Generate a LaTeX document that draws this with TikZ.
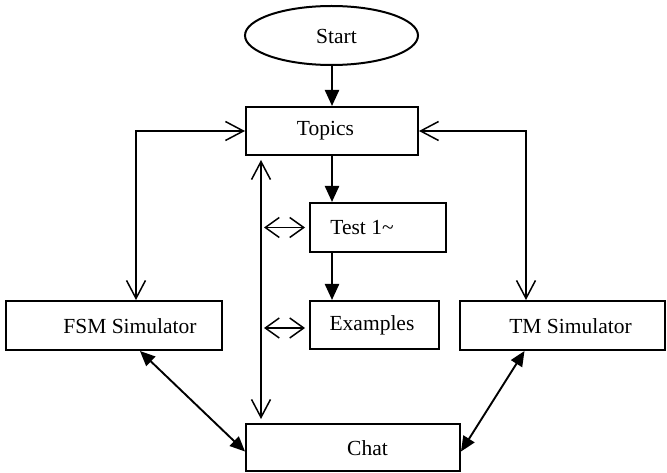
\documentclass[tikz,border=0pt]{standalone}
\usepackage{fontspec}
\setmainfont{Liberation Serif}
\usetikzlibrary{arrows.meta}
\begin{document}
\begin{tikzpicture}[x=1pt,y=-1pt,
  box/.style={draw, line width=2pt, rectangle, inner sep=0pt},
  lbl/.style={inner sep=0pt, font=\fontsize{21.5pt}{25pt}\selectfont},
  thick arrow/.style={line width=2.3pt, -{Triangle[length=16pt,width=14pt]}},
  dbl filled/.style={line width=1.9pt, {Triangle[length=15pt,width=13pt]}-{Triangle[length=15pt,width=13pt]}},
  open both/.style={line width=1.5pt, {Straight Barb[length=18pt,width=19pt,line width=1.5pt]}-{Straight Barb[length=18pt,width=19pt,line width=1.5pt]}},
  open small/.style={line width=1.5pt, {Straight Barb[length=14pt,width=20pt,line width=1.5pt]}-{Straight Barb[length=14pt,width=20pt,line width=1.5pt]}}
]
\useasboundingbox (0,0) rectangle (667,473);
\fill[white] (0,0) rectangle (667,473);

% shapes
\draw[line width=2pt] (331.5,35.5) ellipse [x radius=86.5pt, y radius=29.5pt];
\node[inner sep=0pt, minimum width=173pt, minimum height=59pt] (start) at (331.5,35.5) {};
\node[box, minimum width=172pt, minimum height=48pt] (topics) at (332,131) {};
\node[box, minimum width=136pt, minimum height=49pt] (test) at (378,227.5) {};
\node[box, minimum width=129pt, minimum height=48pt] (examples) at (374.5,325) {};
\node[box, minimum width=216pt, minimum height=49pt] (fsm) at (114,325.5) {};
\node[box, minimum width=205pt, minimum height=49pt] (tm) at (562.5,325.5) {};
\node[box, minimum width=214pt, minimum height=47pt] (chat) at (353,447.5) {};

% texts
\node[lbl] (tstart) at (336.5,36) {Start};
\node[lbl] (ttopics) at (325.5,131) {Topics};
\node[lbl] (ttest) at (362,228) {Test 1\textasciitilde};
\node[lbl] (texamples) at (372,325.5) {Examples};
\node[lbl] (tfsm) at (130,326) {FSM Simulator};
\node[lbl] (ttm) at (570.5,326) {TM Simulator};
\node[lbl] (tchat) at (367.5,448) {Chat};

% helper coordinates
\coordinate (lx) at (136,0);
\coordinate (rx) at (526,0);
\coordinate (vx) at (261,0);
\coordinate (mx) at (332,0);

% main flow
\draw[thick arrow] (start.south -| mx) -- (topics.north -| mx);
\draw[thick arrow] (topics.south -| mx) -- (test.north -| mx);
\draw[thick arrow] (test.south -| mx) -- (examples.north -| mx);

% loops to simulators
\draw[open both] (fsm.north -| lx) |- (topics.west);
\draw[open both] (tm.north -| rx) |- (topics.east);

% long vertical
\draw[open both, shorten <=4pt, shorten >=4pt] (topics.south -| vx) -- (chat.north -| vx);

% small double arrows
\draw[open small] ([xshift=-45pt]test.west) -- ([xshift=-4pt]test.west);
\draw[open small] ([xshift=-45pt,yshift=-3pt]examples.west) -- ([xshift=-4pt,yshift=-3pt]examples.west);

% diagonals
\draw[dbl filled] ([xshift=26pt]fsm.south) -- ([yshift=-4pt]chat.west);
\draw[dbl filled] ([xshift=-38pt]tm.south) -- ([yshift=-4pt]chat.east);
\end{tikzpicture}
\end{document}
